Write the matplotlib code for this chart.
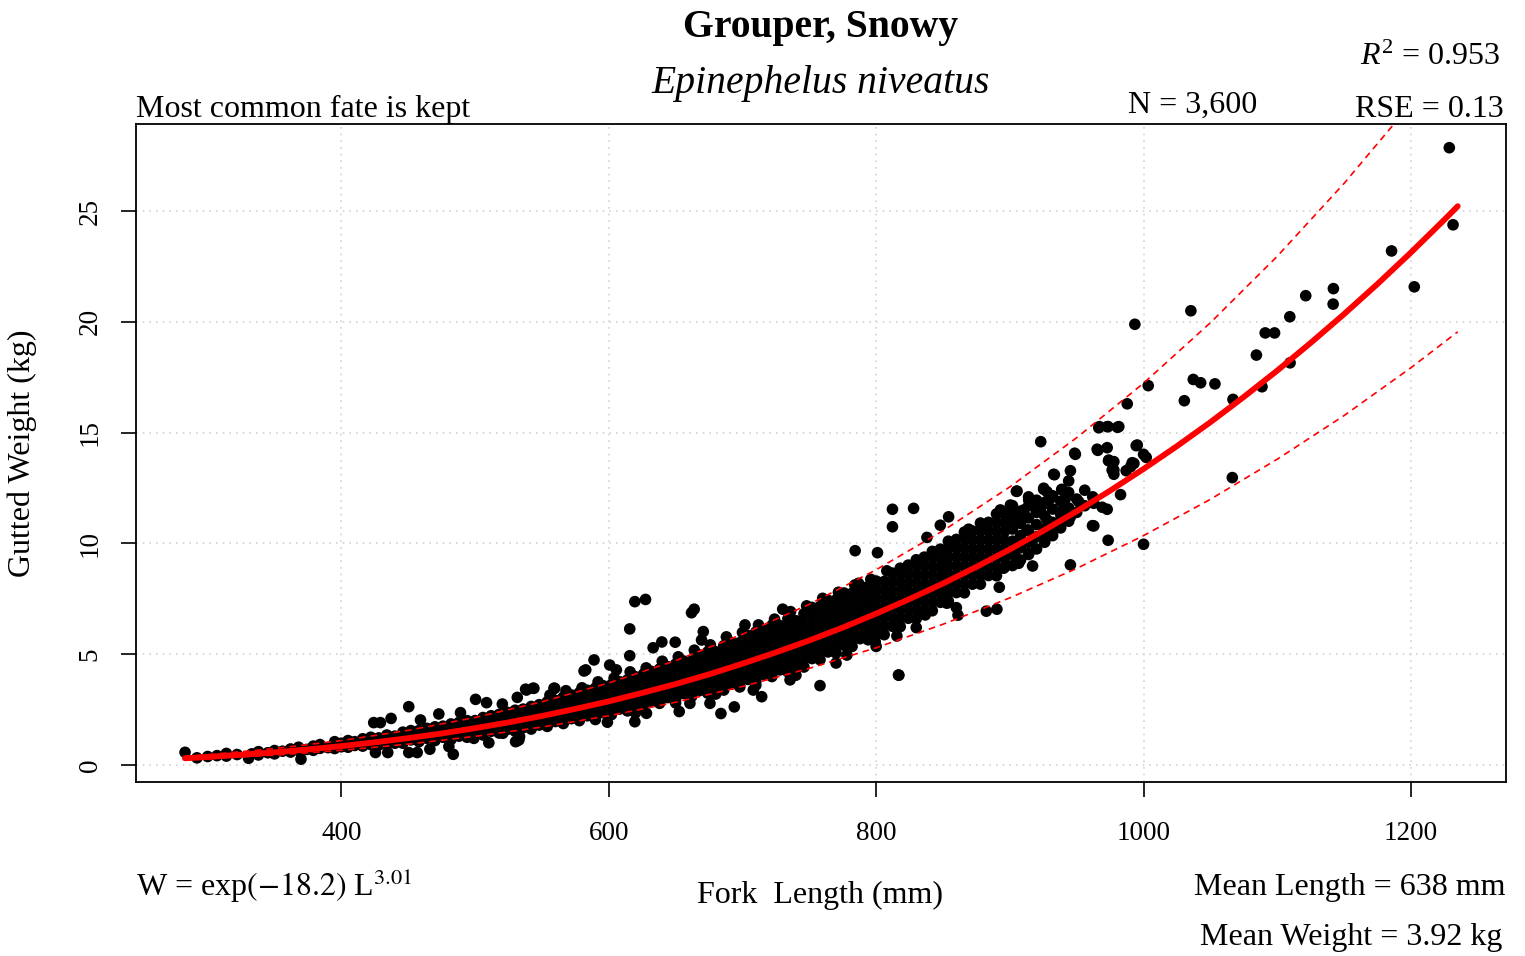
import matplotlib
matplotlib.use("Agg")
import matplotlib.pyplot as plt

plt.rcParams['font.family'] = ['Liberation Serif', 'DejaVu Serif']
plt.rcParams['mathtext.fontset'] = 'custom'
plt.rcParams['mathtext.rm'] = 'Liberation Serif'
plt.rcParams['mathtext.it'] = 'Liberation Serif:italic'

# fitted curve
curve_len = [283, 300, 325, 350, 375, 400, 425, 450, 475, 500, 525, 550, 575, 600,
             625, 650, 675, 700, 725, 750, 775, 800, 825, 850, 875, 900, 925, 950,
             975, 1000, 1025, 1050, 1075, 1100, 1125, 1150, 1175, 1200, 1225, 1235]
curve_wt = [0.30, 0.36, 0.46, 0.57, 0.70, 0.85, 1.02, 1.21, 1.42, 1.66, 1.92, 2.21,
            2.53, 2.87, 3.25, 3.65, 4.09, 4.57, 5.08, 5.62, 6.20, 6.83, 7.49, 8.19,
            8.94, 9.73, 10.57, 11.45, 12.38, 13.36, 14.39, 15.47, 16.61, 17.80,
            19.05, 20.35, 21.71, 23.13, 24.61, 25.22]

# prediction band (dashed)
band_len = [283, 300, 350, 400, 450, 500, 550, 600, 650, 700, 750,
            800, 850, 900, 950, 1000, 1050, 1100, 1150, 1200, 1235]
upper_wt = [0.39, 0.46, 0.74, 1.10, 1.56, 2.14, 2.85, 3.70, 4.71, 5.90, 7.25,
            8.81, 10.57, 12.55, 14.77, 17.23, 19.96, 22.96, 26.25, 29.84, 32.53]
lower_wt = [0.23, 0.28, 0.44, 0.66, 0.94, 1.29, 1.71, 2.22, 2.83, 3.54, 4.36,
            5.29, 6.35, 7.54, 8.87, 10.35, 11.99, 13.80, 15.77, 17.93, 19.55]

# dense part of the cloud: fork length column -> gutted weights
cloud_len = [292, 300, 307, 314, 322, 333, 338, 345, 350, 356, 362, 368, 374, 379,
             384, 390, 395, 400, 405, 410, 416, 422, 428, 434, 440,
             446, 452, 458, 464, 470, 476, 482, 488, 494,
             500, 506, 512, 518, 524, 530, 536, 542, 548,
             554, 560, 566, 572, 578, 584, 590, 596,
             602, 608, 614, 620, 626, 632, 638, 644,
             650, 656, 662, 668, 674, 680, 686, 692, 698,
             704, 710, 716, 722, 728, 734, 740, 746,
             752, 758, 764, 770, 776, 782, 788, 794,
             800, 806, 812, 818, 824, 830, 836, 842, 848,
             854, 860, 866, 872, 878, 884, 890, 896,
             902, 908, 914, 920, 926, 932, 938, 944, 950, 956, 962]
cloud_wt = [
    [0.32], [0.38], [0.42], [0.40, 0.52], [0.47], [0.50], [0.45, 0.60], [0.55],
    [0.50, 0.65], [0.62], [0.58, 0.72], [0.65, 0.80], [0.70], [0.66, 0.85],
    [0.75, 0.92], [0.78], [0.74, 0.90, 1.05], [0.82, 0.98], [0.80, 0.95, 1.10],
    [0.88, 1.05], [0.85, 1.00, 1.18], [0.92, 1.10, 1.25], [0.90, 1.05, 1.22],
    [0.95, 1.15, 1.35], [0.98, 1.15, 1.30],
    [0.98, 1.23, 1.48], [1.13, 1.38, 1.55], [1.05, 1.30, 1.55], [1.20, 1.45, 1.65],
    [1.10, 1.35, 1.60, 1.72], [1.25, 1.50, 1.75], [1.15, 1.40, 1.65, 1.85],
    [1.30, 1.55, 1.80, 1.92], [1.25, 1.50, 1.75, 2.00],
    [1.44, 1.72, 2.00], [1.35, 1.63, 1.91, 2.14], [1.52, 1.80, 2.08, 2.22],
    [1.44, 1.72, 2.00, 2.28], [1.60, 1.88, 2.16, 2.38], [1.52, 1.80, 2.08, 2.36, 2.47],
    [1.68, 1.96, 2.24, 2.52], [1.62, 1.90, 2.18, 2.46, 2.64], [1.80, 2.08, 2.36, 2.64, 2.72],
    [1.74, 2.06, 2.38, 2.70, 2.85], [1.96, 2.28, 2.60, 2.92], [1.87, 2.19, 2.51, 2.83, 3.06],
    [2.09, 2.41, 2.73, 3.05, 3.16], [2.00, 2.32, 2.64, 2.96, 3.26], [2.22, 2.54, 2.86, 3.18, 3.37],
    [2.13, 2.45, 2.77, 3.09, 3.41, 3.47], [2.36, 2.68, 3.00, 3.32, 3.57],
    [2.27, 2.62, 2.97, 3.32, 3.62], [2.52, 2.87, 3.22, 3.57, 3.76], [2.44, 2.79, 3.14, 3.49, 3.84],
    [2.70, 3.05, 3.40, 3.75, 3.98], [2.61, 2.96, 3.31, 3.66, 4.01, 4.10],
    [2.87, 3.22, 3.57, 3.92, 4.22], [2.78, 3.13, 3.48, 3.83, 4.18, 4.33],
    [3.04, 3.39, 3.74, 4.09, 4.44],
    [2.95, 3.35, 3.75, 4.15, 4.55], [3.22, 3.62, 4.02, 4.42, 4.69],
    [3.09, 3.49, 3.89, 4.29, 4.69], [3.36, 3.76, 4.16, 4.56, 4.96],
    [3.24, 3.64, 4.04, 4.44, 4.84, 5.10], [3.51, 3.91, 4.31, 4.71, 5.11],
    [3.38, 3.78, 4.18, 4.58, 4.98, 5.38], [3.65, 4.05, 4.45, 4.85, 5.25, 5.52],
    [3.52, 3.92, 4.32, 4.72, 5.12, 5.52],
    [3.86, 4.26, 4.66, 5.06, 5.46, 5.85], [3.77, 4.17, 4.57, 4.97, 5.37, 5.77, 6.00],
    [4.08, 4.48, 4.88, 5.28, 5.68, 6.08], [3.99, 4.39, 4.79, 5.19, 5.59, 5.99, 6.30],
    [4.29, 4.69, 5.09, 5.49, 5.89, 6.29], [4.20, 4.60, 5.00, 5.40, 5.80, 6.20, 6.60],
    [4.51, 4.91, 5.31, 5.71, 6.11, 6.51], [4.42, 4.82, 5.22, 5.62, 6.02, 6.42, 6.82],
    [4.80, 5.20, 5.60, 6.00, 6.40, 6.80, 7.11], [4.75, 5.15, 5.55, 5.95, 6.35, 6.75, 7.15],
    [5.10, 5.50, 5.90, 6.30, 6.70, 7.10, 7.43], [5.05, 5.45, 5.85, 6.25, 6.65, 7.05, 7.45],
    [5.40, 5.80, 6.20, 6.60, 7.00, 7.40, 7.76], [5.35, 5.75, 6.15, 6.55, 6.95, 7.35, 7.75],
    [5.70, 6.10, 6.50, 6.90, 7.30, 7.70, 8.08], [5.65, 6.05, 6.45, 6.85, 7.25, 7.65, 8.05],
    [5.90, 6.30, 6.70, 7.10, 7.50, 7.90, 8.30], [5.88, 6.28, 6.68, 7.08, 7.48, 7.88, 8.28],
    [6.26, 6.66, 7.06, 7.46, 7.86, 8.26, 8.66], [6.24, 6.64, 7.04, 7.44, 7.84, 8.24, 8.64, 8.88],
    [6.62, 7.02, 7.42, 7.82, 8.22, 8.62, 9.02], [6.60, 7.00, 7.40, 7.80, 8.20, 8.60, 9.00, 9.26],
    [6.98, 7.38, 7.78, 8.18, 8.58, 8.98, 9.38], [6.96, 7.36, 7.76, 8.16, 8.56, 8.96, 9.36, 9.64],
    [7.34, 7.74, 8.14, 8.54, 8.94, 9.34, 9.74],
    [7.39, 7.79, 8.19, 8.59, 8.99, 9.39, 9.79, 10.10], [7.78, 8.18, 8.58, 8.98, 9.38, 9.78, 10.18],
    [7.77, 8.17, 8.57, 8.97, 9.37, 9.77, 10.17, 10.51], [8.16, 8.56, 8.96, 9.36, 9.76, 10.16, 10.56],
    [8.16, 8.56, 8.96, 9.36, 9.76, 10.16, 10.56, 10.92], [8.55, 8.95, 9.35, 9.75, 10.15, 10.55, 10.95],
    [8.54, 8.94, 9.34, 9.74, 10.14, 10.54, 10.94, 11.33], [8.93, 9.33, 9.73, 10.13, 10.53, 10.93, 11.33],
    [9.00, 9.55, 10.10, 10.65, 11.20, 11.70], [9.25, 9.80, 10.35, 10.90, 11.45],
    [9.50, 10.05, 10.60, 11.15, 11.70, 12.10], [9.75, 10.30, 10.85, 11.40, 11.95],
    [10.05, 10.65, 11.25, 11.85], [10.35, 10.95, 11.55, 12.15], [10.70, 11.30, 11.90],
    [11.00, 11.60, 12.30], [11.40, 12.00], [11.70, 12.40], [12.10],
]

# ragged upper and lower rims of the dense band
edge_len = [556, 568, 580, 592, 604, 616, 628, 640, 652, 664, 676, 688, 700, 712,
            724, 736, 748, 760, 772, 784, 796, 808,
            590, 620, 650, 680, 710, 740, 770, 800, 830, 860]
edge_wt = [3.15, 3.35, 3.48, 3.75, 3.92, 4.20, 4.38, 4.68, 4.88, 5.18, 5.42, 5.78,
           5.98, 6.32, 6.58, 6.92, 7.18, 7.52, 7.78, 8.12, 8.38, 8.76,
           2.05, 2.35, 2.80, 3.20, 3.60, 4.05, 4.60, 5.35, 6.20, 7.10]

# scattered fish away from the dense band
out_len = [283.1, 330.6, 369.8, 424.2, 429.2, 425.5, 434.7, 437.2, 450.4, 450.4, 456.7,
           459.2, 466.2, 472.9, 480.4, 483.7, 489.1, 499.1, 500.4, 508.6, 510.3, 520.4,
           520.8, 530.3, 531.3, 531.6, 532.8, 533.3, 537.8, 538.4, 543.3, 544.0, 559.0,
           559.6, 581.5, 582.8, 589.0, 599.0, 600.7, 605.7, 615.7, 615.7, 619.5, 619.5,
           627.5, 628.2, 633.2, 639.7, 649.7, 652.7, 660.7, 661.9, 663.9, 669.4, 670.7,
           675.7, 683.9, 693.9, 701.9, 708.1, 714.4, 730.1, 735.6, 758.0, 771.8, 778.1,
           786.8, 799.3, 815.5, 816.7, 817.0, 836.7, 852.9,
           784.3, 801.0, 812.2, 812.2, 828.0, 838.0, 848.0, 854.2, 869.2, 861.2, 882.4,
           890.3, 892.1, 895.4, 892.9, 900.4, 900.4, 902.9, 904.1, 904.9, 905.4, 906.6,
           907.9, 907.9, 910.4, 912.9, 914.1, 914.1, 917.0, 917.8, 917.8, 922.8, 923.1,
           925.3, 925.3, 927.8, 927.8, 927.8, 927.8, 930.3, 932.8, 932.8, 933.3, 938.8,
           939.1, 940.3, 941.6, 944.0, 945.3, 945.3, 945.3, 948.5, 949.0, 951.5, 961.8,
           962.8, 962.8, 965.3, 965.8, 966.5, 967.0, 969.1, 972.8, 972.8, 972.8, 973.5,
           973.5, 973.8, 974.0, 976.5, 977.8, 977.8, 977.8, 980.5, 981.5, 982.8, 987.0,
           987.8, 990.3, 991.5, 992.8, 993.5, 994.5, 995.3, 1000.0, 1000.0, 1002.0,
           1003.5, 1030.5, 1035.4, 1037.2, 1042.7, 1053.4, 1066.4, 1066.9, 1084.4,
           1088.6, 1091.0, 1098.0, 1109.4, 1109.6, 1121.3, 1141.8, 1142.0, 1185.5,
           1202.5, 1228.7, 1231.5]
out_wt = [0.57, 0.30, 0.26, 1.91, 1.91, 0.56, 0.56, 2.10, 2.63, 0.56, 0.56,
          2.03, 0.71, 2.30, 0.83, 0.48, 2.36, 1.20, 2.96, 2.81, 1.00, 2.75,
          1.43, 1.05, 1.08, 3.05, 1.13, 1.28, 3.42, 3.38, 3.46, 3.46, 3.46,
          3.46, 4.24, 4.29, 4.74, 1.93, 4.51, 4.29, 6.14, 4.93, 7.37, 1.95,
          7.47, 2.33, 5.29, 5.55, 5.54, 2.41, 2.78, 6.87, 7.03, 5.64, 6.02,
          2.78, 2.32, 2.62, 6.32, 3.38, 3.08, 7.03, 3.84, 3.58, 7.79, 4.96,
          8.20, 5.56, 5.82, 4.06, 4.05, 6.77, 7.30,
          9.67, 9.58, 11.54, 10.75, 11.58, 10.27, 10.82, 11.20, 10.64, 6.76, 6.94,
          7.03, 8.02, 8.88, 11.51, 11.06, 11.73, 11.51, 9.40, 12.35, 12.36, 9.10,
          9.85, 11.20, 11.51, 10.60, 11.96, 9.55, 8.98, 11.66, 10.23, 11.51, 14.59,
          12.49, 12.44, 12.33, 11.06, 10.30, 11.81, 12.03, 10.60, 13.12, 13.10, 12.44,
          12.41, 11.58, 12.03, 12.82, 11.20, 13.28, 9.03, 14.07, 14.02, 11.88, 10.80,
          11.81, 10.79, 14.25, 14.20, 15.22, 15.27, 11.63, 11.54, 14.32, 15.27, 10.14,
          15.27, 13.73, 13.76, 13.31, 13.12, 13.31, 13.69, 15.24, 15.27, 12.20, 13.28,
          16.30, 13.46, 13.64, 13.61, 19.89, 14.41, 14.44, 14.02, 9.96, 13.88,
          17.12, 16.44, 20.50, 17.40, 17.25, 17.20, 12.97, 16.50, 18.50,
          17.07, 19.50, 19.50, 20.23, 18.15, 21.18, 20.80, 21.50, 23.20,
          21.58, 27.86, 24.38]

lengths = []
weights = []
for L, ws in zip(cloud_len, cloud_wt):
    for w in ws:
        lengths.append(L)
        weights.append(w)
lengths += edge_len + out_len
weights += edge_wt + out_wt

fig = plt.figure(figsize=(15.25, 9.56), dpi=100)
ax = fig.add_axes([136 / 1525, 1 - 782 / 956, (1506 - 136) / 1525, (782 - 124) / 956])

for x in [400, 600, 800, 1000, 1200]:
    ax.axvline(x, color='#d3d3d3', lw=1.2, ls=(0, (1, 3)), zorder=0)
for y in [0, 5, 10, 15, 20, 25]:
    ax.axhline(y, color='#d3d3d3', lw=1.2, ls=(0, (1, 3)), zorder=0)

ax.scatter(lengths, weights, s=70, color='black', edgecolors='none', zorder=2)
ax.plot(curve_len, curve_wt, color='#ff0000', lw=4.2, solid_capstyle='round',
        solid_joinstyle='round', zorder=4)
ax.plot(band_len, upper_wt, color='#ff0000', lw=1.2, ls=(0, (4, 3)), zorder=3)
ax.plot(band_len, lower_wt, color='#ff0000', lw=1.2, ls=(0, (4, 3)), zorder=3)

ax.set_xlim(246.4, 1271.1)
ax.set_ylim(-0.77, 28.93)
ax.set_xticks([400, 600, 800, 1000, 1200])
ax.set_yticks([0, 5, 10, 15, 20, 25])
ax.tick_params(axis='x', length=11, width=1.2, pad=17, labelsize=19.5)
ax.tick_params(axis='y', length=11, width=1.2, pad=13, labelsize=19.5)
for lab in ax.get_yticklabels():
    lab.set_rotation(90)
    lab.set_va('center')
for sp in ax.spines.values():
    sp.set_linewidth(1.3)

fig.text(821 / 1525, 1 - 27 / 956, 'Grouper, Snowy', ha='center', va='center',
         fontsize=28.5, fontweight='bold')
fig.text(821 / 1525, 1 - 84 / 956, 'Epinephelus niveatus', ha='center', va='center',
         fontsize=28.5, style='italic')
fig.text(136 / 1525, 1 - 117 / 956, 'Most common fate is kept', ha='left', va='baseline',
         fontsize=23)
fig.text(1193 / 1525, 1 - 113 / 956, 'N = 3,600', ha='center', va='baseline', fontsize=23)
fig.text(1500 / 1525, 1 - 65 / 956, r'$R^2$ = 0.953', ha='right', va='baseline', fontsize=23)
fig.text(1504 / 1525, 1 - 117 / 956, 'RSE = 0.13', ha='right', va='baseline', fontsize=23)
fig.text(136 / 1525, 1 - 896 / 956, r'W = exp$\left(-18.2\right)$ L$^{3.01}$',
         ha='left', va='baseline', fontsize=23, math_fontfamily='stix')
fig.text(820 / 1525, 1 - 903 / 956, 'Fork  Length (mm)', ha='center', va='baseline',
         fontsize=23)
fig.text(1505 / 1525, 1 - 895 / 956, 'Mean Length = 638 mm', ha='right', va='baseline',
         fontsize=23)
fig.text(1502 / 1525, 1 - 945 / 956, 'Mean Weight = 3.92 kg', ha='right', va='baseline',
         fontsize=23)
fig.text(22 / 1525, 1 - 453 / 956, 'Gutted Weight (kg)', ha='center', va='center',
         rotation=90, fontsize=23)

fig.savefig('out.png', dpi=100)
